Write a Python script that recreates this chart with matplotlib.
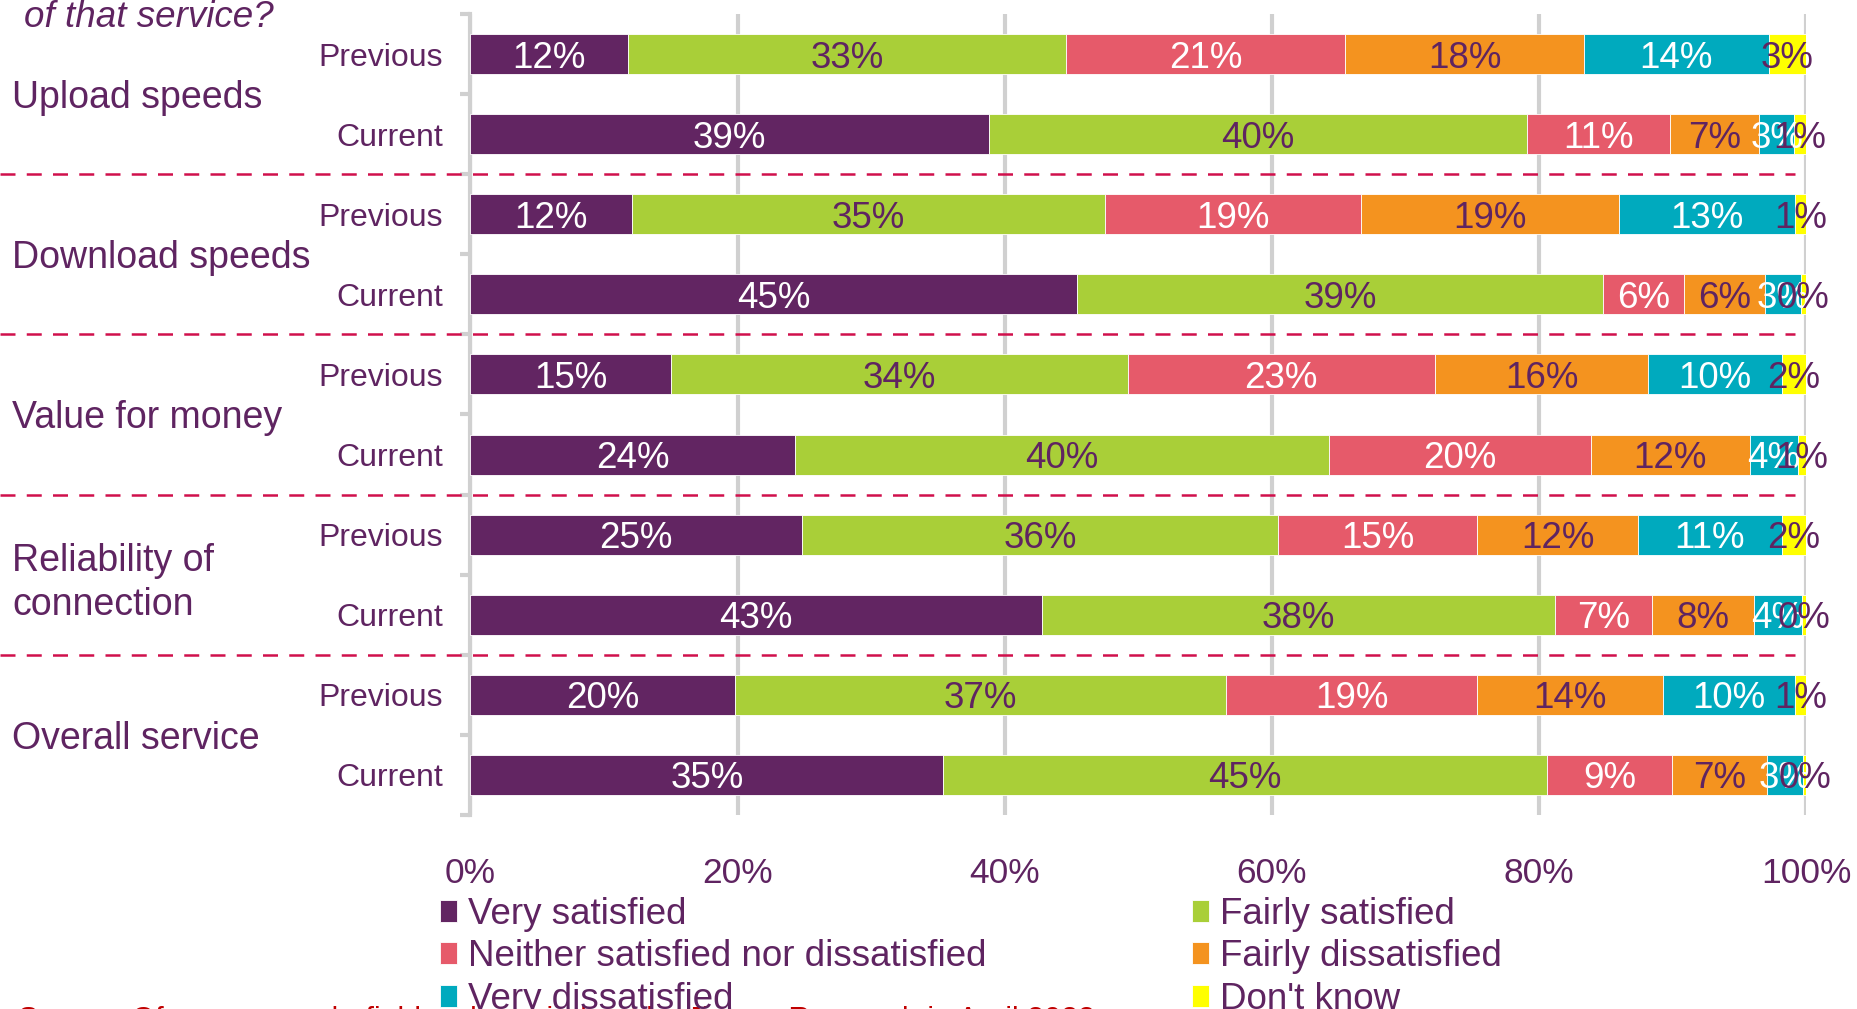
import matplotlib
matplotlib.use("Agg")
import matplotlib.pyplot as plt
import matplotlib.transforms as mtransforms
import numpy as np

plt.rcParams['font.family'] = ['Liberation Sans', 'DejaVu Sans']

# rows, top to bottom
row_labels = ["Previous", "Current"] * 5
groups = ["Upload speeds", "Download speeds", "Value for money",
          "Reliability of\nconnection", "Overall service"]

# share of respondents (%), one list per answer, one value per row
very_satisfied = [11.8, 38.8, 12.1, 45.4, 15.0, 24.3, 24.8, 42.8, 19.8, 35.4]
fairly_satisfied = [32.8, 40.3, 35.4, 39.4, 34.2, 40.0, 35.7, 38.4, 36.8, 45.2]
neither = [20.9, 10.7, 19.2, 6.1, 23.0, 19.6, 14.9, 7.3, 18.8, 9.4]
fairly_dissatisfied = [17.9, 6.7, 19.3, 6.0, 16.0, 11.9, 12.0, 7.6, 13.9, 7.1]
very_dissatisfied = [13.8, 2.6, 13.2, 2.7, 10.0, 3.6, 10.8, 3.6, 9.9, 2.7]
dont_know = [2.8, 0.9, 0.8, 0.4, 1.8, 0.6, 1.8, 0.3, 0.8, 0.2]

series = [very_satisfied, fairly_satisfied, neither,
          fairly_dissatisfied, very_dissatisfied, dont_know]
names = ["Very satisfied", "Fairly satisfied",
         "Neither satisfied nor dissatisfied", "Fairly dissatisfied",
         "Very dissatisfied", "Don't know"]
colors = ["#622562", "#A9CF38", "#E65A6A", "#F4931F", "#00AABE", "#FFFF00"]
label_colors = ["white", "#5F2461", "white", "#5F2461", "white", "#5F2461"]

txt = "#5F2461"
grid_c = "#D0D0D0"

fig = plt.figure(figsize=(18.58, 10.09), dpi=100)
ax = fig.add_axes([0.2532, 0.1923, 0.972 - 0.2532, 0.9861 - 0.1923])

y = np.arange(len(row_labels))
left = np.zeros(len(row_labels))
containers = []
for vals, name, col, lc in zip(series, names, colors, label_colors):
    vals = np.array(vals)
    bc = ax.barh(y, vals, left=left, height=0.5, color=col, label=name,
                 edgecolor="white", linewidth=0.6, zorder=3)
    containers.append(bc)
    for yi, l, v in zip(y, left, vals):
        ax.text(l + v / 2, yi, f"{round(v)}%", ha="center",
                va="center_baseline", fontsize=26.5, color=lc, zorder=4)
    left += vals

ax.set_xlim(0, 100)
ax.set_ylim(9.5, -0.5)
ax.set_xticks([0, 20, 40, 60, 80, 100])
ax.set_xticklabels(["0%", "20%", "40%", "60%", "80%", "100%"])
ax.tick_params(axis="x", length=0, pad=30, labelsize=25.5, labelcolor=txt)
ax.grid(axis="x", color=grid_c, linewidth=3, zorder=0)

ax.set_yticks(y)
ax.set_yticklabels(row_labels)
ax.tick_params(axis="y", which="major", length=0, pad=20, labelsize=23,
               labelcolor=txt)
ax.set_yticks(np.arange(-0.5, 10, 1), minor=True)
ax.tick_params(axis="y", which="minor", length=7, width=3, color=grid_c)

for s in ["top", "right", "bottom"]:
    ax.spines[s].set_visible(False)
ax.spines["left"].set_color(grid_c)
ax.spines["left"].set_linewidth(3)

# group labels and dashed separators
trans = mtransforms.blended_transform_factory(fig.transFigure, ax.transData)
for i, g in enumerate(groups):
    fig.text(0.0065, 2 * i + 0.5, g, transform=trans, ha="left",
             va="center_baseline", fontsize=27, color=txt, linespacing=1.3)
for b in [1.5, 3.5, 5.5, 7.5]:
    ax.plot([0, 0.966], [b, b], transform=trans, color="#D0104C",
            linewidth=1.8, dashes=(6, 4.5), clip_on=False, zorder=5)

fig.text(24 / 1858, 1 - 27 / 1009, "of that service?", fontsize=26.5,
         style="italic", color=txt, ha="left", va="baseline")

# legend is filled row by row in the reference
order = [0, 2, 4, 1, 3, 5]
leg = fig.legend(handles=[containers[i] for i in order],
                 labels=[names[i] for i in order], ncol=2,
                 loc="upper left", bbox_to_anchor=(440 / 1858, 1 - 897 / 1009),
                 frameon=False, fontsize=26.5, labelcolor=txt,
                 handlelength=0.45, handleheight=0.55, handletextpad=0.3,
                 columnspacing=5.6, labelspacing=0.2, borderpad=0,
                 borderaxespad=0)

fig.text(18 / 1858, 1 - 1006 / 1009,
         "Source: Ofcom research, fieldwork carried out by Jigsaw Research in April 2022",
         fontsize=22, color="#C00000", ha="left", va="top")

fig.savefig("out.png", dpi=100)
